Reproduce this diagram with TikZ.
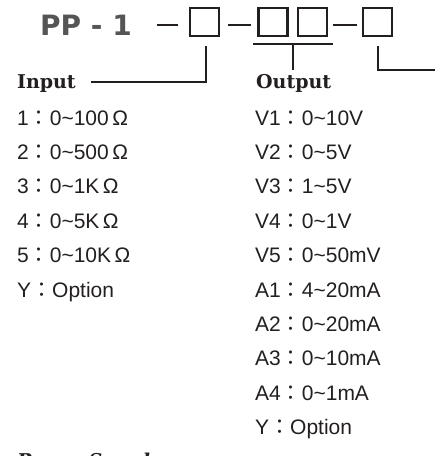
\documentclass[tikz,border=0pt]{standalone}
\usepackage{fontspec}
\newfontfamily\listfont{Liberation Sans}
\newfontfamily\cjkfont{Noto Sans CJK JP}
\newfontfamily\titlefont{DejaVu Sans}
\newfontfamily\headfont{DejaVu Serif}
\usetikzlibrary{positioning,calc}
\definecolor{inkgray}{HTML}{231F20}
\definecolor{titlegray}{HTML}{555555}
\newcommand{\fcolon}{{\cjkfont ：}}
\newcommand{\tld}{\textasciitilde}

\begin{document}
\begin{tikzpicture}[x=1pt,y=-1pt,
        boxsty/.style={
            draw=inkgray, line width=2.2pt,
            minimum width=29pt, minimum height=28pt,
            inner sep=0pt, outer sep=0pt,
        },
        linesty/.style={draw=inkgray, line width=2pt},
        itemsty/.style={
            anchor=base west, inner sep=0pt, text=inkgray,
            font=\listfont\fontsize{21}{24}\selectfont,
        },
        headsty/.style={
            anchor=base west, inner sep=0pt, text=inkgray,
            font=\headfont\bfseries\fontsize{19}{23}\selectfont,
        },
    ]
    \useasboundingbox (0,0) rectangle (435,456);
    \clip (0,0) rectangle (435,456);

    \node[anchor=base west, inner sep=0pt, text=titlegray,
          font=\titlefont\bfseries\fontsize{28}{32}\selectfont] (pp) at (40,35) {PP - 1};

    \node[boxsty] (b1) at (204.5,22) {};
    \node[boxsty] (b2) at (273,22) {};
    \node[boxsty, right=10.5pt of b2] (b3) {};
    \node[boxsty] (b4) at (377.5,22) {};

    % dashes between the code boxes
    \draw[linesty] ([shift={(-33,3)}]b1.west) -- ([shift={(-12,3)}]b1.west);
    \draw[linesty] ([shift={(9,3)}]b1.east) -- ([shift={(-8,3)}]b2.west);
    \draw[linesty] ([shift={(6,3)}]b3.east) -- ([shift={(-6,3)}]b4.west);

    \node[headsty] (inp) at (17,88) {Input};
    \node[headsty] (outp) at (256,88) {Output};
    \node[headsty, font=\headfont\bfseries\itshape\fontsize{19}{23}\selectfont] (pwr) at (17,467) {Power Supply};

    \coordinate (ulmid) at ($(b2.south east)!0.5!(b3.south west)+(0,8)$);
    \coordinate (pwrend) at (435,70);

    \draw[linesty] ([shift={(-6,8)}]b2.south west) -- ([shift={(6,8)}]b3.south east);
    \draw[linesty] (ulmid) -- (ulmid |- 0,70);
    \draw[linesty] ([shift={(1.5,10)}]b1.south) |- ([xshift=15pt,yshift=1pt]inp.east);
    \draw[linesty] ([yshift=-10pt]b4.south) |- (pwrend);

    \foreach \txt [count=\i] in {1\fcolon 0\tld100\,Ω, 2\fcolon 0\tld500\,Ω, 3\fcolon 0\tld1K\,Ω,
                                 4\fcolon 0\tld5K\,Ω, 5\fcolon 0\tld10K\,Ω, Y\fcolon Option}
        \node[itemsty] (in\i) at (17,{125+(\i-1)*34.4}) {\txt};

    \foreach \txt [count=\i] in {V1\fcolon 0\tld10V, V2\fcolon 0\tld5V, V3\fcolon 1\tld5V,
                                 V4\fcolon 0\tld1V, V5\fcolon 0\tld50mV, A1\fcolon 4\tld20mA,
                                 A2\fcolon 0\tld20mA, A3\fcolon 0\tld10mA, A4\fcolon 0\tld1mA,
                                 Y\fcolon Option}
        \node[itemsty] (out\i) at (255,{125+(\i-1)*34.4}) {\txt};

\end{tikzpicture}
\end{document}
